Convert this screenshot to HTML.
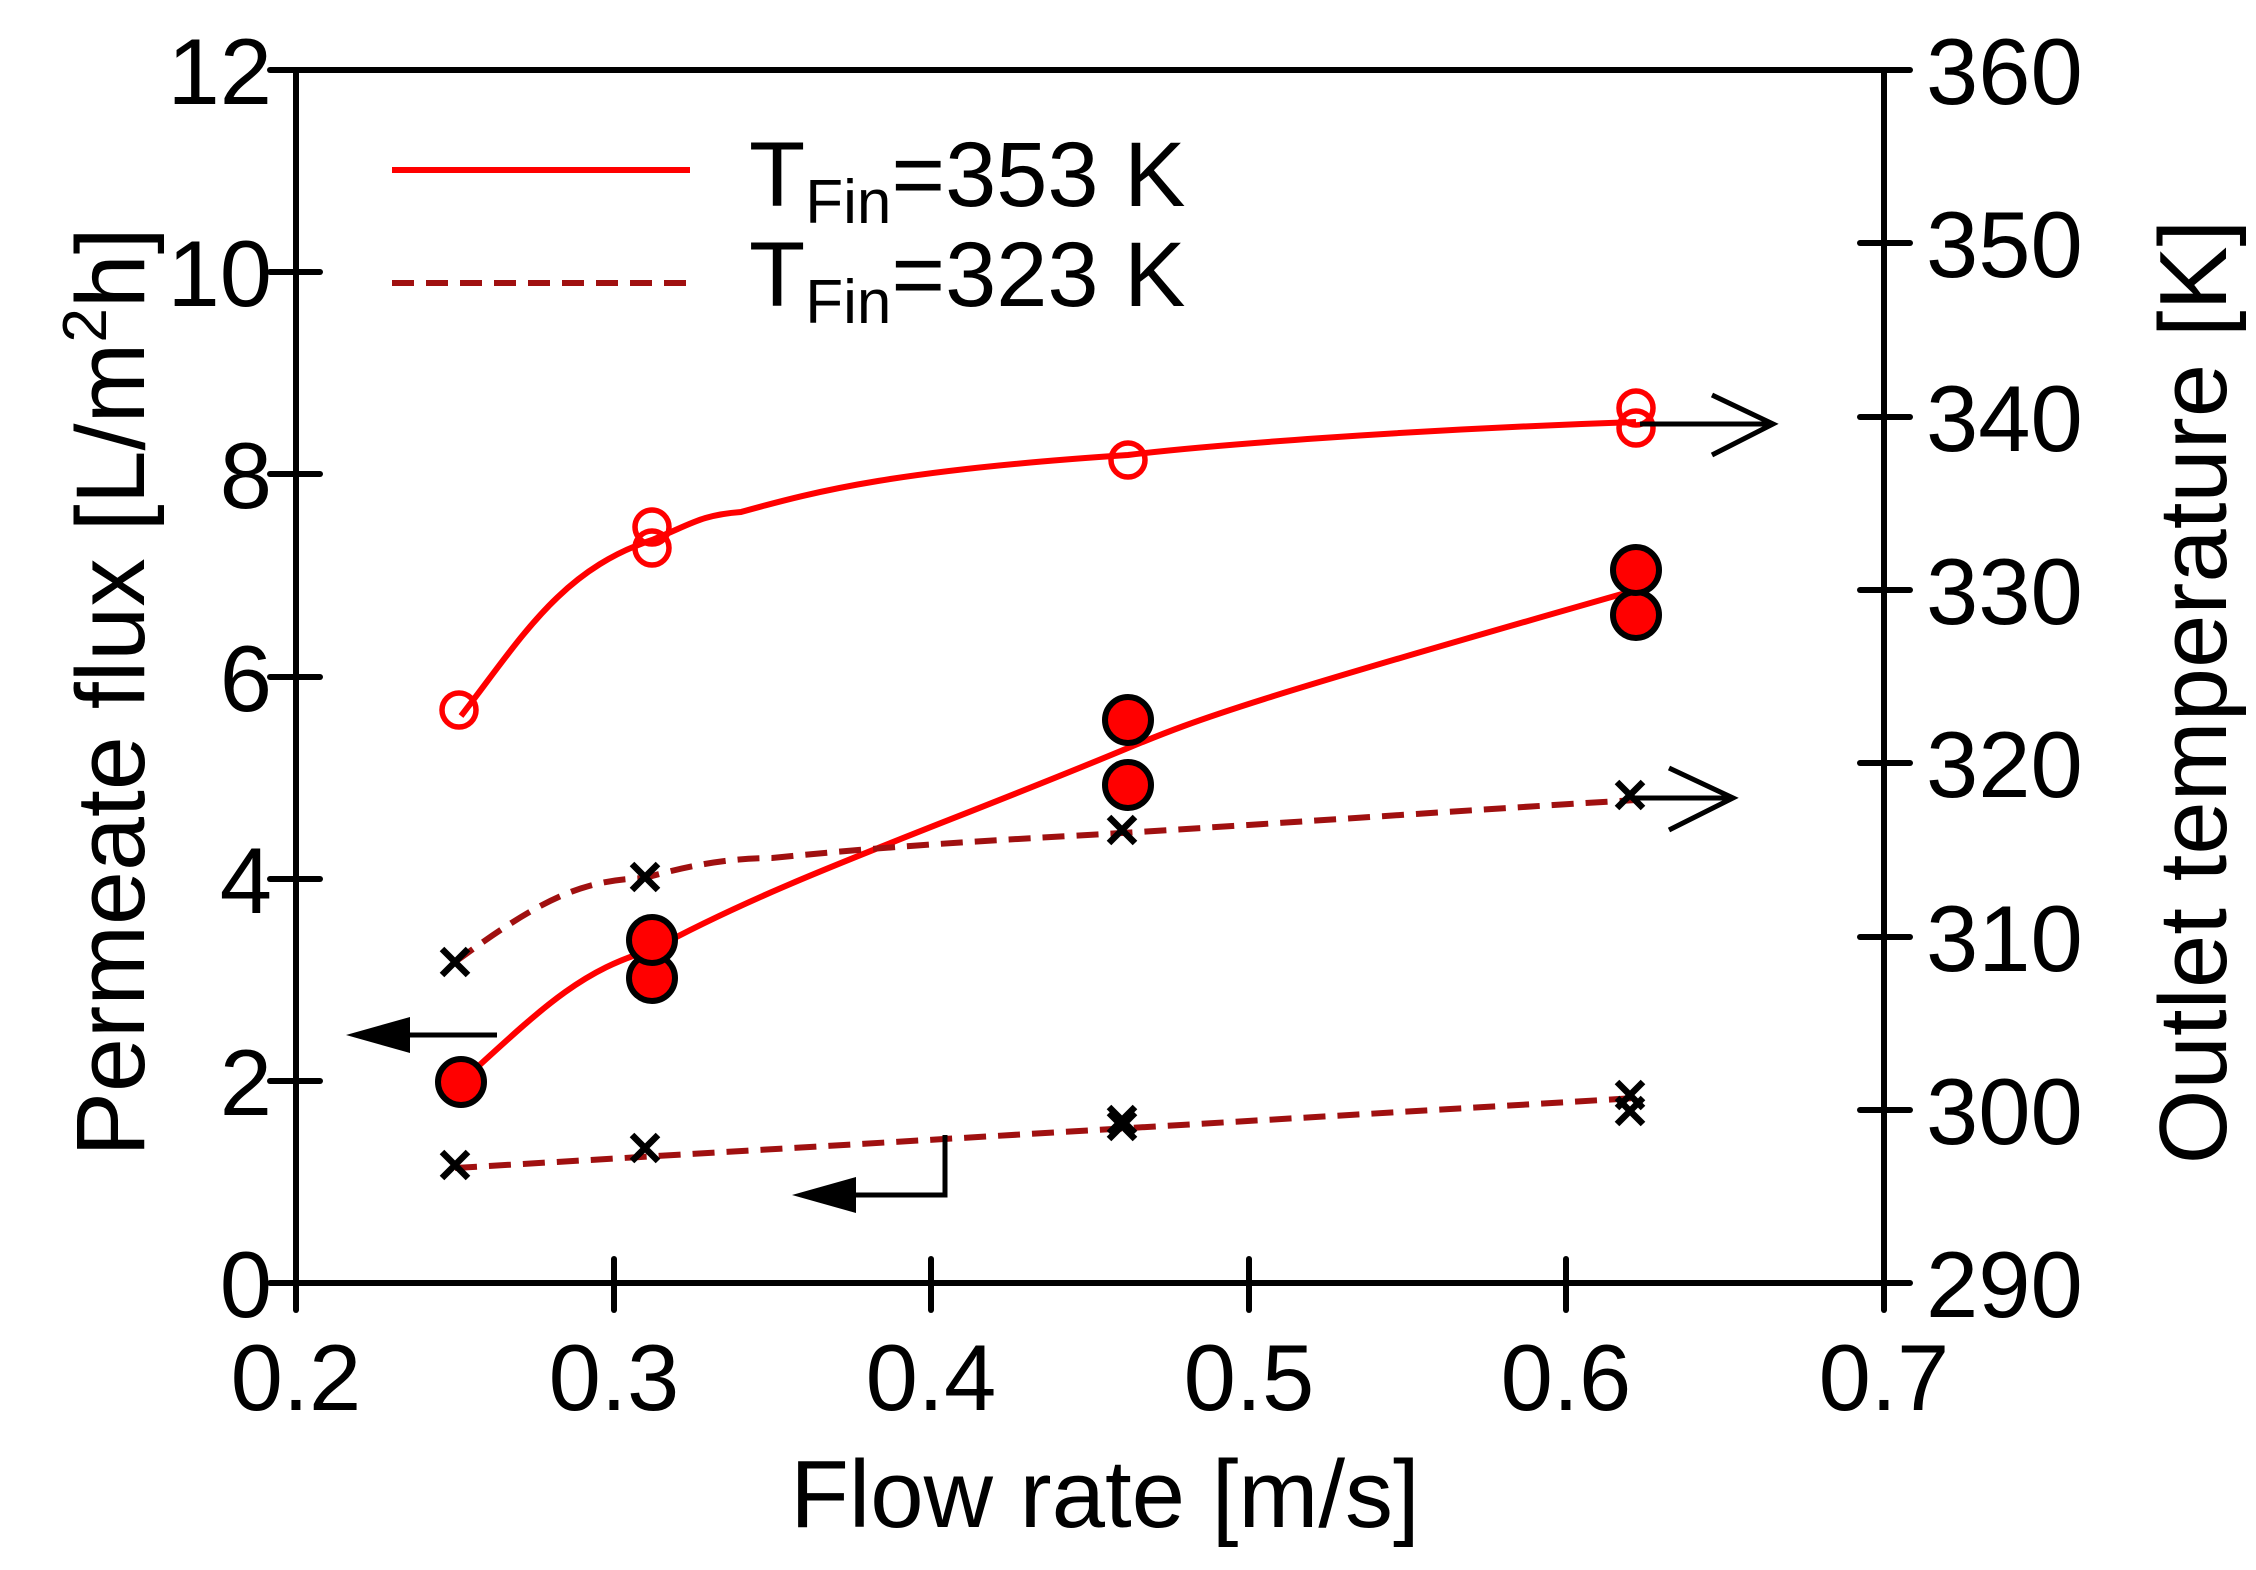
<!DOCTYPE html>
<html><head><meta charset="utf-8"><style>
html,body{margin:0;padding:0;background:#fff;}
svg{display:block;}
text{font-family:"Liberation Sans",Arial,sans-serif;fill:#000;}
</style></head><body>
<svg width="2256" height="1570" viewBox="0 0 2256 1570" xmlns="http://www.w3.org/2000/svg">
<g stroke="#000" stroke-width="6" fill="none" stroke-linecap="round">
<line x1="296" y1="70" x2="1884" y2="70"/>
<line x1="270" y1="1283" x2="1910" y2="1283"/>
<line x1="296" y1="70" x2="296" y2="1310"/>
<line x1="1884" y1="70" x2="1884" y2="1310"/>
<line x1="614" y1="1259" x2="614" y2="1310"/>
<line x1="931" y1="1259" x2="931" y2="1310"/>
<line x1="1249" y1="1259" x2="1249" y2="1310"/>
<line x1="1566" y1="1259" x2="1566" y2="1310"/>
<line x1="270" y1="1081" x2="320" y2="1081"/>
<line x1="270" y1="879" x2="320" y2="879"/>
<line x1="270" y1="677" x2="320" y2="677"/>
<line x1="270" y1="474" x2="320" y2="474"/>
<line x1="270" y1="272" x2="320" y2="272"/>
<line x1="270" y1="70" x2="320" y2="70"/>
<line x1="1860" y1="1110" x2="1910" y2="1110"/>
<line x1="1860" y1="937" x2="1910" y2="937"/>
<line x1="1860" y1="763" x2="1910" y2="763"/>
<line x1="1860" y1="590" x2="1910" y2="590"/>
<line x1="1860" y1="417" x2="1910" y2="417"/>
<line x1="1860" y1="243" x2="1910" y2="243"/>
<line x1="1860" y1="70" x2="1910" y2="70"/>
</g>
<g font-size="94" text-anchor="end">
<text x="272" y="1317">0</text>
<text x="272" y="1115">2</text>
<text x="272" y="913">4</text>
<text x="272" y="711">6</text>
<text x="272" y="508">8</text>
<text x="272" y="306">10</text>
<text x="272" y="104">12</text>
</g>
<g font-size="94" text-anchor="start">
<text x="1926" y="1317">290</text>
<text x="1926" y="1144">300</text>
<text x="1926" y="971">310</text>
<text x="1926" y="797">320</text>
<text x="1926" y="624">330</text>
<text x="1926" y="451">340</text>
<text x="1926" y="277">350</text>
<text x="1926" y="104">360</text>
</g>
<g font-size="94" text-anchor="middle">
<text x="296" y="1410">0.2</text>
<text x="614" y="1410">0.3</text>
<text x="931" y="1410">0.4</text>
<text x="1249" y="1410">0.5</text>
<text x="1566" y="1410">0.6</text>
<text x="1884" y="1410">0.7</text>
<text x="1105" y="1527" font-size="96">Flow rate [m/s]</text>
</g>
<text transform="translate(144,692) rotate(-90)" font-size="97" text-anchor="middle">Permeate flux [L/m<tspan font-size="62" dy="-38">2</tspan><tspan dy="38">h]</tspan></text>
<text transform="translate(2226,692) rotate(-90)" font-size="96" text-anchor="middle">Outlet temperature [K]</text>
<line x1="392" y1="170" x2="690" y2="170" stroke="#ff0000" stroke-width="6"/>
<line x1="392" y1="283" x2="690" y2="283" stroke="#a01010" stroke-width="6" stroke-dasharray="22,12"/>
<text x="749" y="206" font-size="92">T<tspan font-size="62" dy="17">Fin</tspan><tspan dy="-17">=353 K</tspan></text>
<text x="749" y="306" font-size="92">T<tspan font-size="62" dy="17">Fin</tspan><tspan dy="-17">=323 K</tspan></text>
<g fill="none" stroke-width="6">
<path d="M461,716 C520,640 560,570 652,540 C690,525 700,515 741,512 C820,490 900,470 1128,455 C1200,446 1400,430 1636,422" stroke="#ff0000"/>
<path d="M461,1082 C540,1010 580,970 652,950 C780,880 931,830 1128,748 C1200,718 1250,700 1636,590" stroke="#ff0000"/>
<path d="M455,962 C540,900 580,880 645,878 C700,862 740,858 772,858 C900,845 1000,840 1122,833 C1300,822 1500,808 1636,800" stroke="#a01010" stroke-dasharray="22,12"/>
<path d="M455,1168 L1636,1098" stroke="#a01010" stroke-dasharray="22,12"/>
</g>
<g fill="none" stroke="#ff0000" stroke-width="5.5">
<circle cx="459" cy="710" r="17"/>
<circle cx="652" cy="527" r="17"/><circle cx="652" cy="548" r="17"/>
<circle cx="1128" cy="460" r="17"/>
<circle cx="1636" cy="408" r="17"/><circle cx="1636" cy="428" r="17"/>
</g>
<g fill="#ff0000" stroke="#000" stroke-width="6">
<circle cx="461" cy="1082" r="23"/>
<circle cx="652" cy="978" r="23"/><circle cx="652" cy="940" r="23"/>
<circle cx="1128" cy="785" r="23"/><circle cx="1128" cy="720" r="23"/>
<circle cx="1636" cy="615" r="23"/><circle cx="1636" cy="570" r="23"/>
</g>
<g stroke="#000" stroke-width="6.5" fill="none">
<path d="M442,949 l26,26 M468,949 l-26,26"/>
<path d="M632,864 l26,26 M658,864 l-26,26"/>
<path d="M1109,817 l26,26 M1135,817 l-26,26"/>
<path d="M1617,782 l26,26 M1643,782 l-26,26"/>
<path d="M442,1152 l26,26 M468,1152 l-26,26"/>
<path d="M632,1135 l26,26 M658,1135 l-26,26"/>
<path d="M1109,1107 l26,26 M1135,1107 l-26,26"/>
<path d="M1109,1113 l26,26 M1135,1113 l-26,26"/>
<path d="M1617,1082 l26,26 M1643,1082 l-26,26"/>
<path d="M1617,1098 l26,26 M1643,1098 l-26,26"/>
</g>
<g stroke="#000" stroke-width="5" fill="none">
<line x1="1640" y1="424" x2="1773" y2="424"/>
<path d="M1712,395 L1773,424 L1712,455"/>
<line x1="1632" y1="798" x2="1733" y2="798"/>
<path d="M1669,768 L1733,798 L1669,830"/>
<line x1="400" y1="1035" x2="497" y2="1035"/>
<path d="M850,1195 L945,1195 L945,1135"/>
</g>
<polygon points="346,1035 410,1017 410,1053" fill="#000"/>
<polygon points="792,1195 856,1177 856,1213" fill="#000"/>
</svg>
</body></html>
